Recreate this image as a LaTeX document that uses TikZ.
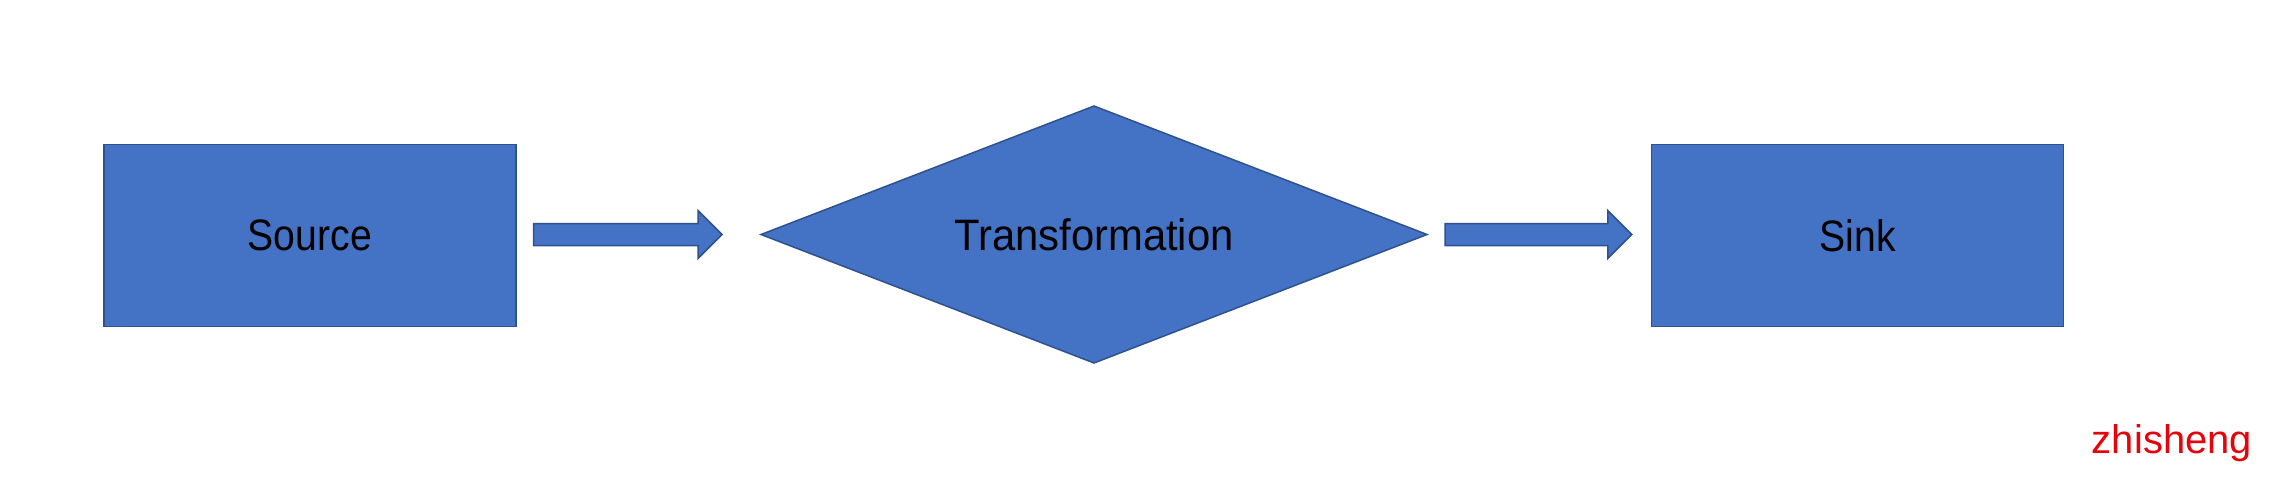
\documentclass[tikz,border=0pt]{standalone}
\usepackage{fontspec}
\setmainfont{Liberation Sans}
\newfontfamily\narrowfont[FakeStretch=0.89]{Liberation Sans}
\newfontfamily\semifont[FakeStretch=0.95]{Liberation Sans}
\usetikzlibrary{calc}
\definecolor{boxblue}{HTML}{4472C4}
\definecolor{boxedge}{HTML}{2F528F}
\definecolor{markred}{HTML}{E3050B}
\tikzset{
  blockbox/.style={draw=boxedge, fill=boxblue, line width=1.5pt, inner sep=0pt},
  rectbox/.style={blockbox, rectangle, minimum width=412pt, minimum height=182pt,
    font=\narrowfont\fontsize{44}{48}\selectfont, text=black},
  diatext/.style={inner sep=0pt, font=\semifont\fontsize{44}{48}\selectfont, text=black},
  blockarrow/.style={draw=boxedge, fill=boxblue, line width=1.5pt, line join=miter},
  wmtext/.style={text=markred, font=\fontsize{40}{44}\selectfont, inner sep=0pt}
}
\begin{document}
\begin{tikzpicture}[x=1pt,y=-1pt]
\useasboundingbox (0,0) rectangle (2286,480);
\node[rectbox] (src) at (309.75,235.3) {Source};
\coordinate (trc) at (1094,234.5);
\coordinate (trw) at (761,234.5);
\coordinate (tre) at (1427,234.5);
\coordinate (trn) at (1094,106);
\coordinate (trs) at (1094,363);
\draw[blockbox] (trw) -- (trn) -- (tre) -- (trs) -- cycle;
\node[diatext] (tr) at (trc) {Transformation};
\node[rectbox] (snk) at (1857.5,235.3) {Sink};
\node[wmtext] (wm) at (2172,443) {zhisheng};
% arrow 1
\coordinate (a1s) at ($(src.east)+(17,-0.8)$);
\coordinate (a1e) at ($(trw)+(-39,0)$);
\draw[blockarrow] ($(a1s)+(0,-11)$) -- ($(a1e)+(-24,-11)$) -- ($(a1e)+(-24,-24)$) -- (a1e)
  -- ($(a1e)+(-24,24)$) -- ($(a1e)+(-24,11)$) -- ($(a1s)+(0,11)$) -- cycle;
% arrow 2
\coordinate (a2s) at ($(tre)+(18,0)$);
\coordinate (a2e) at ($(snk.west)+(-19,-0.8)$);
\draw[blockarrow] ($(a2s)+(0,-11)$) -- ($(a2e)+(-24,-11)$) -- ($(a2e)+(-24,-24)$) -- (a2e)
  -- ($(a2e)+(-24,24)$) -- ($(a2e)+(-24,11)$) -- ($(a2s)+(0,11)$) -- cycle;
\end{tikzpicture}
\end{document}
